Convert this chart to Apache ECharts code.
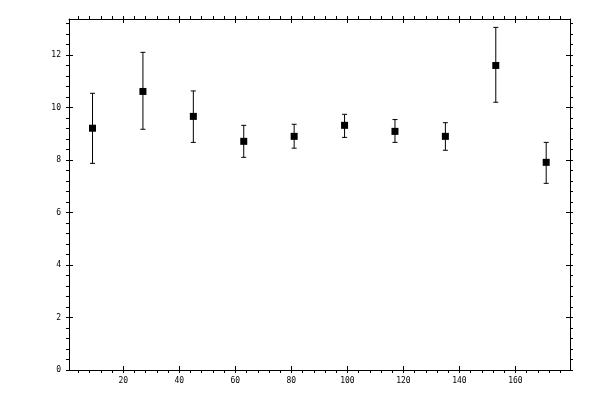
<!DOCTYPE html>
<html>
<head>
<meta charset="utf-8">
<script src="https://cdn.jsdelivr.net/npm/echarts@6/dist/echarts.min.js"></script>
<style>
  html, body { margin: 0; padding: 0; background: #fff; }
  #chart { width: 600px; height: 400px; }
</style>
</head>
<body>
<div id="chart"></div>
<script>
  // ---- data ----
  const xVals = [9, 27, 45, 63, 81, 99, 117, 135, 153, 171];
  const yVals = [9.21, 10.61, 9.66, 8.71, 8.90, 9.32, 9.09, 8.90, 11.60, 7.91];
  const yHigh = [10.54, 12.10, 10.63, 9.32, 9.36, 9.74, 9.54, 9.42, 13.05, 8.67];
  const yLow = [7.87, 9.17, 8.67, 8.10, 8.45, 8.86, 8.67, 8.37, 10.20, 7.11];

  // ---- axes: labels and tick positions ----
  const xLabels = [20, 40, 60, 80, 100, 120, 140, 160];
  const xTicks = [4, 8, 12, 16, 20, 24, 28, 32, 36, 40, 44, 48, 52, 56, 60, 64, 68, 72, 76, 80,
    84, 88, 92, 96, 100, 104, 108, 112, 116, 120, 124, 128, 132, 136, 140, 144, 148, 152, 156, 160,
    164, 168, 172, 176];
  const yLabels = [0, 2, 4, 6, 8, 10, 12];
  const yTicks = [0, 0.4, 0.8, 1.2, 1.6, 2, 2.4, 2.8, 3.2, 3.6, 4, 4.4, 4.8, 5.2, 5.6, 6, 6.4, 6.8,
    7.2, 7.6, 8, 8.4, 8.8, 9.2, 9.6, 10, 10.4, 10.8, 11.2, 11.6, 12, 12.4, 12.8, 13.2];
  const X_MIN = 0.6, X_MAX = 179.5, Y_MIN = 0, Y_MAX = 13.37;

  const INK = '#000';
  const FONT = 'DejaVu Sans Mono, monospace';

  // one axis with line + labels + short outside ticks, one with inside major ticks
  function xPair(pos, labels) {
    return [
      {
        type: 'value', position: pos, min: X_MIN, max: X_MAX,
        axisLine: { show: true, onZero: false, lineStyle: { color: INK, width: 1 } },
        axisTick: { show: true, inside: false, length: 3, customValues: xTicks, lineStyle: { color: INK } },
        axisLabel: labels
          ? { show: true, customValues: xLabels, color: INK, fontFamily: FONT, fontSize: 8, margin: 7 }
          : { show: false },
        splitLine: { show: false },
      },
      {
        type: 'value', position: pos, min: X_MIN, max: X_MAX,
        axisLine: { show: false, onZero: false },
        axisTick: { show: true, inside: true, length: 4, customValues: xLabels, lineStyle: { color: INK } },
        axisLabel: { show: false },
        splitLine: { show: false },
      },
    ];
  }
  function yPair(pos, labels) {
    return [
      {
        type: 'value', position: pos, min: Y_MIN, max: Y_MAX,
        axisLine: { show: true, onZero: false, lineStyle: { color: INK, width: 1 } },
        axisTick: { show: true, inside: false, length: 3, customValues: yTicks, lineStyle: { color: INK } },
        axisLabel: labels
          ? { show: true, customValues: yLabels, color: INK, fontFamily: FONT, fontSize: 8, margin: 8 }
          : { show: false },
        splitLine: { show: false },
      },
      {
        type: 'value', position: pos, min: Y_MIN, max: Y_MAX,
        axisLine: { show: false, onZero: false },
        axisTick: { show: true, inside: true, length: 4, customValues: yLabels, lineStyle: { color: INK } },
        axisLabel: { show: false },
        splitLine: { show: false },
      },
    ];
  }

  const errData = xVals.map((x, i) => [x, yLow[i], yHigh[i]]);
  const ptData = xVals.map((x, i) => [x, yVals[i]]);

  const chart = echarts.init(document.getElementById('chart'), null, { renderer: 'canvas' });
  chart.setOption({
    animation: false,
    backgroundColor: '#fff',
    grid: { left: 69, right: 30, top: 19, bottom: 30 },
    xAxis: xPair('bottom', true).concat(xPair('top', false)),
    yAxis: yPair('left', true).concat(yPair('right', false)),
    series: [
      {
        type: 'custom',
        xAxisIndex: 0, yAxisIndex: 0,
        data: errData,
        renderItem: function (params, api) {
          const lo = api.coord([api.value(0), api.value(1)]);
          const hi = api.coord([api.value(0), api.value(2)]);
          const cap = 2.5;
          const style = { stroke: INK, lineWidth: 1 };
          return {
            type: 'group',
            children: [
              { type: 'line', shape: { x1: lo[0], y1: lo[1], x2: hi[0], y2: hi[1] }, style: style },
              { type: 'line', shape: { x1: hi[0] - cap, y1: hi[1], x2: hi[0] + cap, y2: hi[1] }, style: style },
              { type: 'line', shape: { x1: lo[0] - cap, y1: lo[1], x2: lo[0] + cap, y2: lo[1] }, style: style },
            ],
          };
        },
        z: 2,
      },
      {
        type: 'scatter',
        xAxisIndex: 0, yAxisIndex: 0,
        data: ptData,
        symbol: 'rect',
        symbolSize: 7,
        itemStyle: { color: INK, opacity: 1 },
        z: 3,
      },
    ],
  });
</script>
</body>
</html>
